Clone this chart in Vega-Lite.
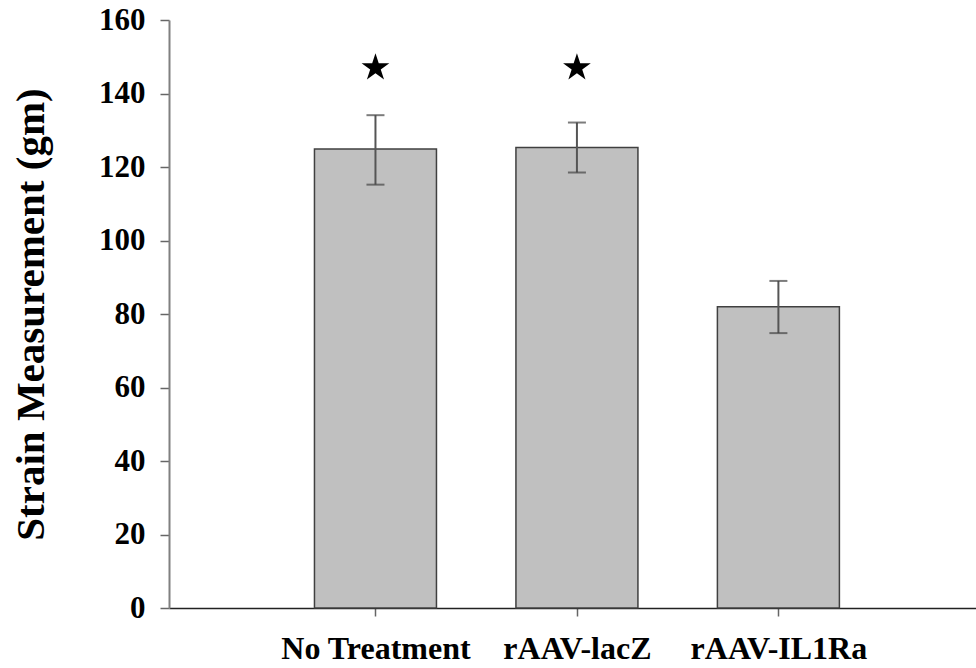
{
  "$schema": "https://vega.github.io/schema/vega-lite/v6.json",
  "width": 807,
  "height": 588,
  "autosize": {"type": "none"},
  "padding": {"left": 169, "top": 20, "right": 0, "bottom": 60},
  "background": "white",
  "config": {"view": {"stroke": null}},
  "data": {
    "values": [
      {"pos": 1, "group": "No Treatment", "mean": 124.9, "lo": 115.2, "hi": 134.1, "star": 147},
      {"pos": 2, "group": "rAAV-lacZ", "mean": 125.3, "lo": 118.5, "hi": 132.1, "star": 147},
      {"pos": 3, "group": "rAAV-IL1Ra", "mean": 82.0, "lo": 74.8, "hi": 89.0, "star": null}
    ]
  },
  "encoding": {
    "x": {
      "field": "pos",
      "type": "quantitative",
      "scale": {"domain": [0, 3.956], "nice": false, "zero": false},
      "axis": {
        "values": [1, 2, 3],
        "labelExpr": "datum.value == 1 ? 'No Treatment' : datum.value == 2 ? 'rAAV-lacZ' : 'rAAV-IL1Ra'",
        "title": null,
        "grid": false,
        "domainColor": "#222222",
        "domainWidth": 1.5,
        "tickColor": "#666666",
        "tickSize": 8,
        "tickWidth": 1.5,
        "labelFont": "Liberation Serif",
        "labelFontWeight": "bold",
        "labelFontSize": 32,
        "labelColor": "black",
        "labelLimit": 0,
        "labelPadding": 17
      }
    }
  },
  "layer": [
    {
      "mark": {"type": "bar", "width": 122, "fill": "#c0c0c0", "stroke": "#404040", "strokeWidth": 1.5},
      "encoding": {
        "y": {
          "field": "mean",
          "type": "quantitative",
          "scale": {"domain": [0, 160], "nice": false},
          "axis": {
            "values": [0, 20, 40, 60, 80, 100, 120, 140, 160],
            "title": "Strain Measurement (gm)",
            "titleFont": "Liberation Serif",
            "titleFontWeight": "bold",
            "titleFontSize": 41,
            "titleColor": "black",
            "titlePadding": 46,
            "grid": false,
            "domainColor": "#808080",
            "domainWidth": 2,
            "tickColor": "#666666",
            "tickSize": 9,
            "tickWidth": 1.5,
            "labelFont": "Liberation Serif",
            "labelFontWeight": "bold",
            "labelFontSize": 31,
            "labelColor": "black",
            "labelLimit": 0,
            "labelPadding": 15
          }
        }
      }
    },
    {
      "mark": {"type": "rule", "color": "#555555", "strokeWidth": 2},
      "encoding": {
        "y": {"field": "lo", "type": "quantitative"},
        "y2": {"field": "hi"}
      }
    },
    {
      "mark": {"type": "tick", "orient": "horizontal", "size": 18, "thickness": 2, "color": "#444444"},
      "encoding": {"y": {"field": "lo", "type": "quantitative"}}
    },
    {
      "mark": {"type": "tick", "orient": "horizontal", "size": 18, "thickness": 2, "color": "#444444"},
      "encoding": {"y": {"field": "hi", "type": "quantitative"}}
    },
    {
      "transform": [{"filter": "datum.star != null"}],
      "mark": {
        "type": "point",
        "shape": "M0,-1L0.2245,-0.309L0.951,-0.309L0.363,0.118L0.588,0.809L0,0.382L-0.588,0.809L-0.363,0.118L-0.951,-0.309L-0.2245,-0.309Z",
        "filled": true,
        "color": "black",
        "opacity": 1,
        "size": 850
      },
      "encoding": {"y": {"field": "star", "type": "quantitative"}}
    }
  ]
}
